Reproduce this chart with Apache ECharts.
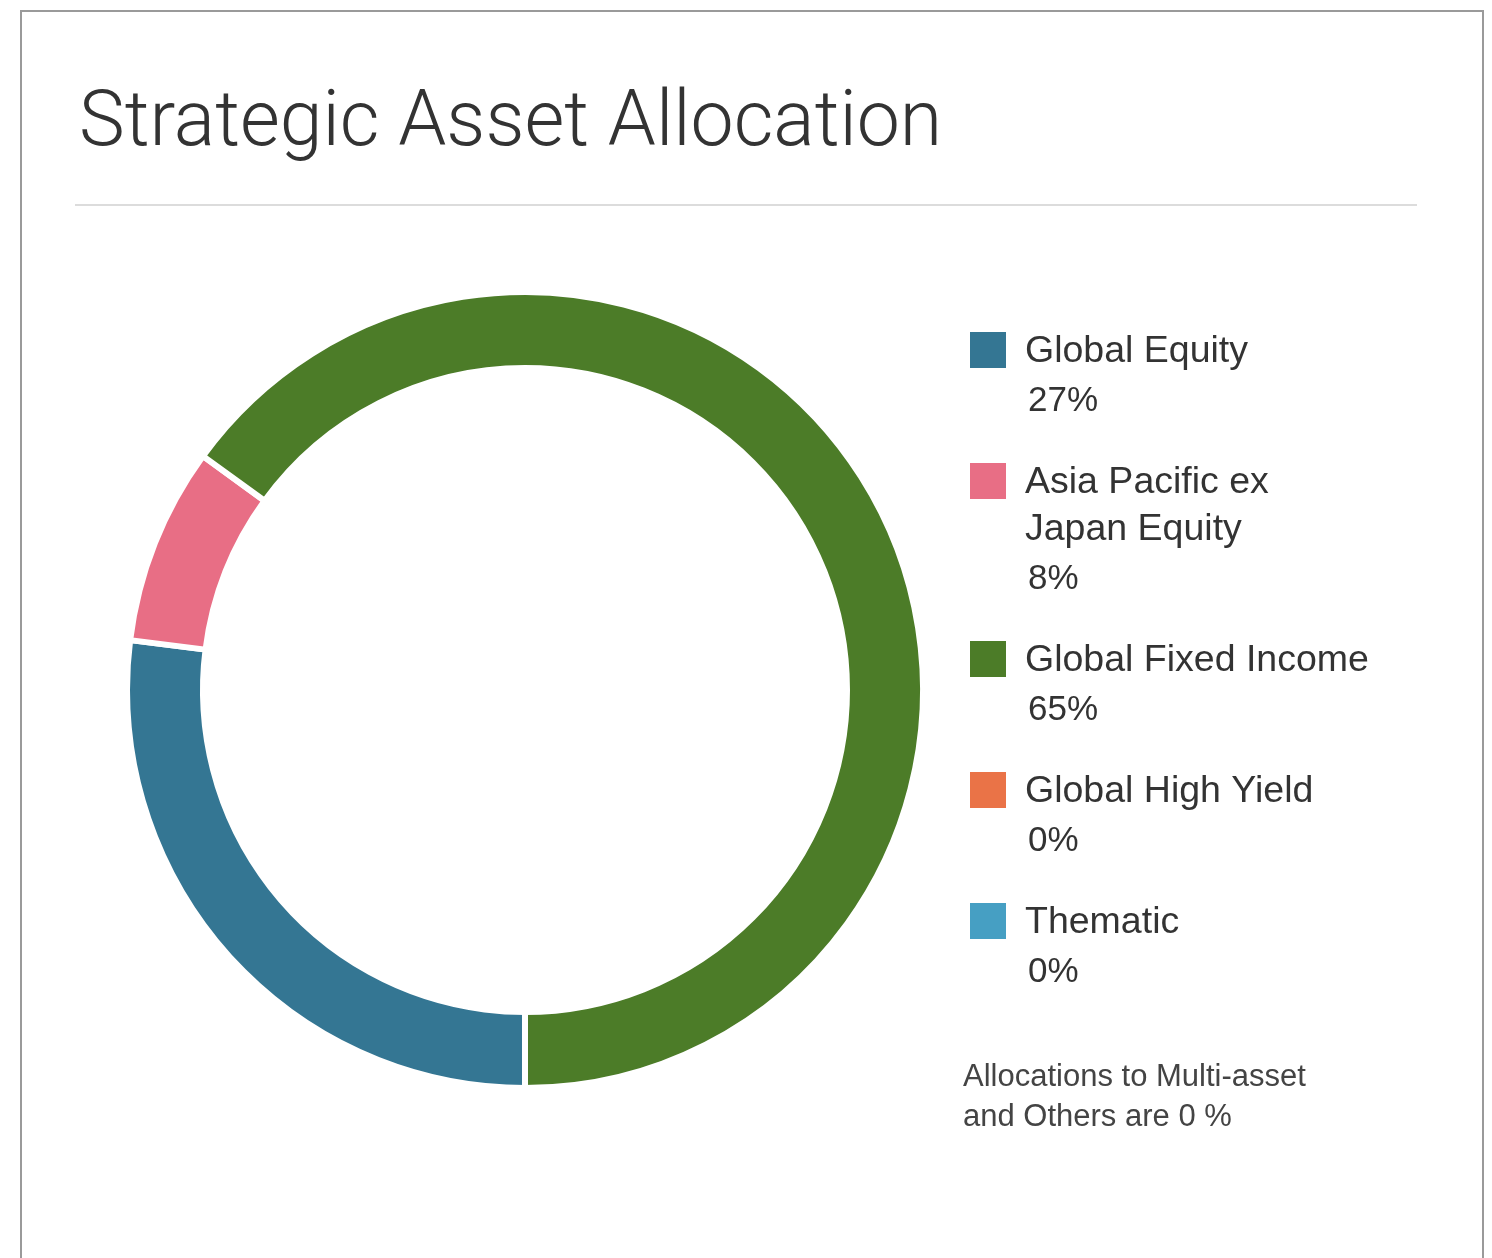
<!DOCTYPE html>
<html>
<head>
<meta charset="utf-8">
<script src="https://cdn.jsdelivr.net/npm/echarts@6/dist/echarts.min.js"></script>
<style>
html,body{margin:0;padding:0;background:#fff;}
#chart{width:1492px;height:1258px;}
</style>
</head>
<body>
<div id="chart"></div>
<script>
// ---- data ----
var titleText = 'Strategic Asset Allocation';
var categories = ['Global Equity', 'Asia Pacific ex Japan Equity', 'Global Fixed Income', 'Global High Yield', 'Thematic'];
var legendLabels = ['Global Equity', 'Asia Pacific ex\nJapan Equity', 'Global Fixed Income', 'Global High Yield', 'Thematic'];
var values = [27, 8, 65, 0, 0];
var colors = ['#347693', '#E86E85', '#4C7C28', '#EA7347', '#469FC3'];
var footnote = 'Allocations to Multi-asset\nand Others are 0 %';

// ---- build ----
var pieData = categories.map(function (c, i) {
  return { name: c, value: values[i], itemStyle: { color: colors[i] } };
});

var graphics = [];
// frame
graphics.push({ type: 'rect', shape: { x: 21, y: 11, width: 1462, height: 1300 }, style: { fill: 'none', stroke: '#9a9a9a', lineWidth: 2 }, silent: true });
// title
graphics.push({ type: 'text', x: 79, y: 126, style: { text: titleText, font: '300 77px Roboto', fill: '#333', verticalAlign: 'middle' } });
// divider
graphics.push({ type: 'line', shape: { x1: 75, y1: 205, x2: 1417, y2: 205 }, style: { stroke: '#dcdcdc', lineWidth: 2 } });

// legend
var y = 350;
var LH = 47;
for (var i = 0; i < categories.length; i++) {
  var lines = legendLabels[i].split('\n').length;
  graphics.push({ type: 'rect', shape: { x: 970, y: y - 18, width: 36, height: 36 }, style: { fill: colors[i] } });
  graphics.push({ type: 'text', x: 1025, y: y - LH / 2 + 2, style: { text: legendLabels[i], font: '37.5px "Liberation Sans"', fill: '#333', verticalAlign: 'top', lineHeight: LH } });
  var vy = y + (lines - 1) * LH + 50;
  graphics.push({ type: 'text', x: 1028, y: vy + 1, style: { text: values[i] + '%', font: '35px "Liberation Sans"', fill: '#333', verticalAlign: 'middle' } });
  y = vy + 81;
}
graphics.push({ type: 'text', x: 963, y: 1057, style: { text: footnote, font: '31px "Liberation Sans"', fill: '#444', verticalAlign: 'top', lineHeight: 40 } });

var chart = echarts.init(document.getElementById('chart'), null, { renderer: 'canvas' });
chart.setOption({
  animation: false,
  backgroundColor: '#fff',
  graphic: graphics,
  series: [{
    type: 'pie',
    center: [525, 690],
    radius: [322, 398],
    startAngle: 270,
    clockwise: true,
    silent: true,
    label: { show: false },
    labelLine: { show: false },
    itemStyle: { borderColor: '#fff', borderWidth: 6 },
    emphasis: { disabled: true },
    data: pieData
  }]
});
</script>
</body>
</html>
